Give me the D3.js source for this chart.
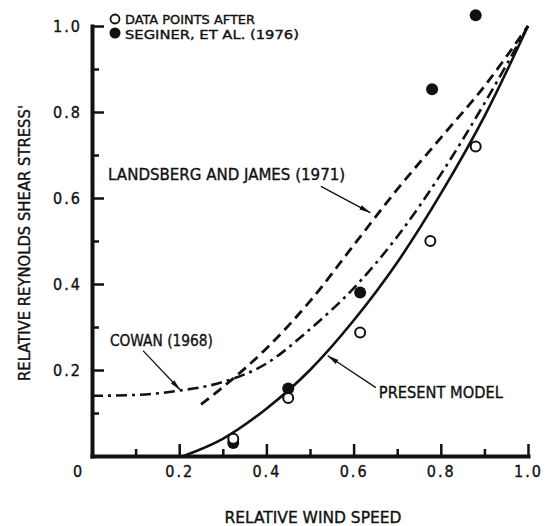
<!DOCTYPE html>
<html>
<head>
<meta charset="utf-8">
<script src="https://cdn.jsdelivr.net/npm/d3@7"></script>
<style>
  body { margin: 0; background: #fff; }
  svg { display: block; }
  text { font-family: "DejaVu Sans Condensed", "Liberation Sans Narrow", sans-serif; fill: #111; stroke: #111; stroke-width: 0.35px; }
</style>
</head>
<body>
<svg id="chart" width="546" height="526"></svg>
<script>
  // relative wind speed vs relative Reynolds shear stress
  var presentModel = [[0.21, 0], [0.3, 0.04], [0.4, 0.11], [0.5, 0.2], [0.6, 0.315],
    [0.7, 0.45], [0.8, 0.61], [0.9, 0.79], [1.0, 1.0]];
  var landsbergJames = [[0.25, 0.12], [0.3, 0.16], [0.4, 0.25], [0.5, 0.36], [0.6, 0.49],
    [0.7, 0.62], [0.8, 0.74], [0.9, 0.86], [1.0, 1.0]];
  var cowan = [[0, 0.14], [0.1, 0.142], [0.2, 0.152], [0.3, 0.172], [0.4, 0.215],
    [0.5, 0.295], [0.6, 0.39], [0.7, 0.51], [0.8, 0.655], [0.9, 0.82], [1.0, 1.0]];

  var seginerOpen = [[0.324, 0.04], [0.45, 0.135], [0.615, 0.287], [0.776, 0.50], [0.88, 0.72]];
  var seginerFilled = [[0.324, 0.03], [0.45, 0.157], [0.615, 0.38], [0.78, 0.853], [0.88, 1.025]];

  var majorTicks = [0.2, 0.4, 0.6, 0.8, 1.0];
  var minorTicks = [0.1, 0.3, 0.5, 0.7, 0.9];

  // annotation labels: text start (data coords), arrow tail -> tip
  var notes = [
    {text: 'LANDSBERG AND JAMES (1971)', at: [0.037, 0.642], len: 237, from: [0.525, 0.627], to: [0.638, 0.566]},
    {text: 'COWAN (1968)', at: [0.041, 0.256], len: 103, from: [0.117, 0.245], to: [0.202, 0.154]},
    {text: 'PRESENT MODEL', at: [0.658, 0.135], len: 124, from: [0.651, 0.159], to: [0.541, 0.233]}
  ];

  var svg = d3.select('#chart');
  var x = d3.scaleLinear().domain([0, 1]).range([92, 528]);
  var y = d3.scaleLinear().domain([0, 1]).range([456, 26]);

  var defs = svg.append('defs');
  defs.append('marker')
    .attr('id', 'arrow')
    .attr('markerUnits', 'userSpaceOnUse')
    .attr('markerWidth', 12).attr('markerHeight', 6)
    .attr('refX', 11).attr('refY', 3)
    .attr('orient', 'auto')
    .append('path')
    .attr('d', 'M0,0.6 L12,3 L0,5.4 z')
    .attr('fill', '#111');

  var fmt = function(d) { return d === 0 ? '0' : d3.format('.1f')(d); };

  // x axis
  var xMajor = svg.append('g')
    .attr('transform', 'translate(0,' + y(0) + ')')
    .call(d3.axisBottom(x).tickValues([0].concat(majorTicks)).tickFormat(fmt)
      .tickSizeInner(-12).tickSizeOuter(0).tickPadding(10));
  svg.append('g')
    .attr('transform', 'translate(0,' + y(0) + ')')
    .call(d3.axisBottom(x).tickValues(minorTicks).tickFormat('').tickSizeInner(-7).tickSizeOuter(0))
    .select('.domain').remove();

  // y axis
  svg.append('g')
    .attr('transform', 'translate(' + x(0) + ',0)')
    .call(d3.axisLeft(y).tickValues(majorTicks).tickFormat(fmt)
      .tickSizeInner(-12).tickSizeOuter(0).tickPadding(10));
  svg.append('g')
    .attr('transform', 'translate(' + x(0) + ',0)')
    .call(d3.axisLeft(y).tickValues(minorTicks).tickFormat('').tickSizeInner(-7).tickSizeOuter(0))
    .select('.domain').remove();

  svg.selectAll('.domain').attr('stroke', '#111').attr('stroke-width', 4).attr('stroke-linecap', 'square');
  svg.selectAll('.tick line').attr('stroke', '#111').attr('stroke-width', 2.5);
  svg.selectAll('.tick text')
    .style('font-family', '"DejaVu Sans Condensed", sans-serif')
    .style('font-size', '16px')
    .style('letter-spacing', '2px')
    .attr('fill', '#111');
  // origin label sits left of the axis corner
  xMajor.selectAll('.tick').filter(function(d) { return d === 0; })
    .select('line').remove();
  xMajor.selectAll('.tick').filter(function(d) { return d === 0; })
    .select('text').attr('dx', -14);

  // curves
  var line = d3.line()
    .x(function(d) { return x(d[0]); })
    .y(function(d) { return y(d[1]); })
    .curve(d3.curveMonotoneX);

  svg.append('path').datum(cowan)
    .attr('d', line).attr('fill', 'none').attr('stroke', '#111')
    .attr('stroke-width', 2.6).attr('stroke-dasharray', '11,5,3,5');
  svg.append('path').datum(landsbergJames)
    .attr('d', line).attr('fill', 'none').attr('stroke', '#111')
    .attr('stroke-width', 2.8).attr('stroke-dasharray', '10,6');
  svg.append('path').datum(presentModel)
    .attr('d', line).attr('fill', 'none').attr('stroke', '#111')
    .attr('stroke-width', 2.6);

  // data points
  svg.selectAll('.filled').data(seginerFilled).enter().append('circle')
    .attr('class', 'filled')
    .attr('cx', function(d) { return x(d[0]); })
    .attr('cy', function(d) { return y(d[1]); })
    .attr('r', 6).attr('fill', '#111');
  svg.selectAll('.open').data(seginerOpen).enter().append('circle')
    .attr('class', 'open')
    .attr('cx', function(d) { return x(d[0]); })
    .attr('cy', function(d) { return y(d[1]); })
    .attr('r', 5).attr('fill', '#fff').attr('stroke', '#111').attr('stroke-width', 2);

  // legend
  var legend = svg.append('g');
  legend.append('circle').attr('cx', 115).attr('cy', 19).attr('r', 4.5)
    .attr('fill', '#fff').attr('stroke', '#111').attr('stroke-width', 1.8);
  legend.append('circle').attr('cx', 115).attr('cy', 33).attr('r', 5.5).attr('fill', '#111');
  legend.append('text').attr('x', 125).attr('y', 24).attr('textLength', 130)
    .attr('lengthAdjust', 'spacingAndGlyphs').style('font-size', '13px').text('DATA POINTS AFTER');
  legend.append('text').attr('x', 125).attr('y', 39).attr('textLength', 174)
    .attr('lengthAdjust', 'spacingAndGlyphs').style('font-size', '13px').text('SEGINER, ET AL. (1976)');

  // annotations
  notes.forEach(function(n) {
    svg.append('text')
      .attr('x', x(n.at[0])).attr('y', y(n.at[1]))
      .attr('textLength', n.len).attr('lengthAdjust', 'spacingAndGlyphs')
      .style('font-size', '16px')
      .text(n.text);
    svg.append('line')
      .attr('x1', x(n.from[0])).attr('y1', y(n.from[1]))
      .attr('x2', x(n.to[0])).attr('y2', y(n.to[1]))
      .attr('stroke', '#111').attr('stroke-width', 1.3)
      .attr('marker-end', 'url(#arrow)');
  });

  // axis titles
  svg.append('text')
    .attr('x', 313).attr('y', 523)
    .attr('text-anchor', 'middle')
    .attr('textLength', 177).attr('lengthAdjust', 'spacingAndGlyphs')
    .style('font-size', '16px')
    .text('RELATIVE WIND SPEED');
  svg.append('text')
    .attr('transform', 'translate(30,243) rotate(-90)')
    .attr('text-anchor', 'middle')
    .attr('textLength', 276).attr('lengthAdjust', 'spacingAndGlyphs')
    .style('font-size', '16px')
    .text('RELATIVE REYNOLDS SHEAR STRESS\'');
</script>
</body>
</html>
